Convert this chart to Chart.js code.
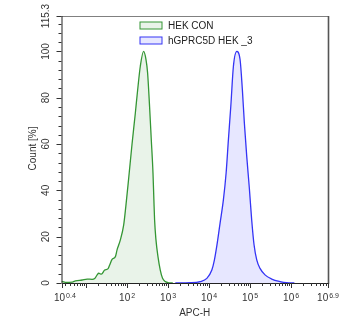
<!DOCTYPE html>
<html>
<head>
<meta charset="utf-8">
<script src="https://cdn.jsdelivr.net/npm/chart.js@4/dist/chart.umd.min.js"></script>
<style>
  html, body { margin: 0; padding: 0; background: #ffffff; }
  #wrap { width: 364px; height: 334px; }
</style>
</head>
<body>
<div id="wrap"><canvas id="histo" width="364" height="334"></canvas></div>
<script>
// Histogram of APC-H intensity for the two samples (counts normalised to % of peak)
const seriesNames = ['HEK CON', 'hGPRC5D HEK _3'];

const conIntensity = [2.51, 2.6, 3.1, 4.6, 5.5, 8.0, 10.6, 14.0, 16.2, 18.6, 20.3, 23.6, 28.4, 34.4, 37.6, 43, 51.8, 56.9, 68.5, 82.4, 93, 109, 132, 158, 180, 210, 252, 289, 316, 353, 389, 428, 450, 468, 506, 566, 644, 733, 852, 1024, 1300];
const conCount     = [0.5, 0.6, 0.3, 0.4, 0.9, 1.3, 1.7, 1.6, 1.9, 3.5, 4.2, 3.8, 5.6, 6.2, 7.8, 10.2, 11.4, 14.3, 18.6, 25, 33, 45, 60, 73, 83, 93.6, 100, 96.5, 90.8, 76.3, 61.9, 47.5, 36, 27.3, 18.6, 11.4, 5.6, 2.0, 0.6, 0.1, 0];

const gprcIntensity = [1500, 3459, 6053, 8810, 11660, 13490, 15420, 18570, 22340, 26000, 29580, 33830, 39170, 47340, 56920, 64760, 72440, 82800, 95770, 102400, 109600, 124800, 145200, 174600, 231100, 336600, 535800, 779700, 1200000];
const gprcCount     = [0, 0.1, 0.6, 2.0, 5.6, 10, 16, 26, 36, 47.5, 61.9, 76.3, 93.6, 100, 96.5, 83.5, 69.1, 54.7, 41, 34, 27, 16.5, 10.0, 6.3, 3.5, 1.7, 0.6, 0.1, 0];

// Axis ranges and labelled ticks
const xMinExp = 0.4;
const xMaxExp = 6.9;
const xLabelExponents = ['0.4', '2', '3', '4', '5', '6', '6.9'];
const yMax = 115.3;
const yLabelValues = [0, 20, 40, 60, 80, 100, 115.3];

const xTitle = 'APC-H';
const yTitle = 'Count [%]';

const lineColors = ['rgb(52,150,52)', 'rgb(52,52,245)'];
const fillColors = ['rgba(52,150,52,0.11)', 'rgba(60,60,255,0.12)'];

function toPoints(xs, ys) { return xs.map((v, i) => ({ x: v, y: ys[i] })); }

const FONT = '"Liberation Sans", Arial, sans-serif';

const axesPlugin = {
  id: 'flowAxes',
  afterDraw(chart) {
    const { ctx, chartArea, scales } = chart;
    const { left, right, top, bottom } = chartArea;
    const xs = scales.x, ys = scales.y;
    ctx.save();

    // frame: top and right in grey
    ctx.lineWidth = 1;
    ctx.strokeStyle = '#808080';
    ctx.beginPath();
    ctx.moveTo(left, top + 0.5); ctx.lineTo(right, top + 0.5);
    ctx.stroke();
    ctx.strokeStyle = '#555555';
    ctx.lineWidth = 1.6;
    ctx.beginPath();
    ctx.moveTo(right + 0.5, top); ctx.lineTo(right + 0.5, bottom + 1);
    ctx.stroke();

    // left and bottom axes
    ctx.strokeStyle = '#222222';
    ctx.lineWidth = 1;
    ctx.beginPath();
    ctx.moveTo(left + 0.5, top); ctx.lineTo(left + 0.5, bottom + 0.5);
    ctx.lineTo(right, bottom + 0.5);
    ctx.stroke();

    // y ticks: major every 20, minor every 4
    ctx.strokeStyle = '#333333';
    ctx.beginPath();
    for (let v = 0; v <= 112; v += 4) {
      const py = Math.round(ys.getPixelForValue(v)) + 0.5;
      const len = (v % 20 === 0) ? 5 : 3;
      ctx.moveTo(left, py); ctx.lineTo(left - len, py);
    }
    const pTop = Math.round(ys.getPixelForValue(yMax)) + 0.5;
    ctx.moveTo(left, pTop); ctx.lineTo(left - 5, pTop);
    ctx.stroke();

    // x ticks: major at decades and range ends, minor at 2..9
    ctx.beginPath();
    const xMin = Math.pow(10, xMinExp), xMax = Math.pow(10, xMaxExp);
    for (let d = 0; d <= 7; d++) {
      for (let m = 1; m <= 9; m++) {
        const v = m * Math.pow(10, d);
        if (v < xMin || v > xMax) continue;
        const px = Math.round(xs.getPixelForValue(v)) + 0.5;
        const len = m === 1 ? 5 : 3;
        ctx.moveTo(px, bottom); ctx.lineTo(px, bottom + len);
      }
    }
    [xMin, xMax].forEach(v => {
      const px = Math.round(xs.getPixelForValue(v)) + 0.5;
      ctx.moveTo(px, bottom); ctx.lineTo(px, bottom + 5);
    });
    ctx.stroke();

    // y tick labels (rotated)
    ctx.fillStyle = '#333333';
    ctx.font = '10px ' + FONT;
    ctx.textAlign = 'center';
    ctx.textBaseline = 'middle';
    yLabelValues.forEach(v => {
      const py = ys.getPixelForValue(v);
      ctx.save();
      ctx.translate(left - 15, py);
      ctx.rotate(-Math.PI / 2);
      ctx.fillText(String(v), 0, 0);
      ctx.restore();
    });

    // x tick labels: 10 with superscript exponent
    ctx.textAlign = 'left';
    ctx.textBaseline = 'alphabetic';
    xLabelExponents.forEach((e, i) => {
      const px = xs.getPixelForValue(Math.pow(10, parseFloat(e)));
      ctx.font = '10px ' + FONT;
      const wb = ctx.measureText('10').width;
      ctx.font = '7px ' + FONT;
      const we = ctx.measureText(e).width;
      // first label sits just right of the axis corner
      let x0 = px - (wb + 1 + we) / 2;
      if (i === 0) x0 = px - 7.5;
      ctx.font = '10px ' + FONT;
      ctx.fillText('10', x0, bottom + 18);
      ctx.font = '7px ' + FONT;
      ctx.fillText(e, x0 + wb + 1, bottom + 14.5);
    });

    // axis titles
    ctx.font = '10px ' + FONT;
    ctx.textAlign = 'center';
    ctx.textBaseline = 'middle';
    ctx.fillText(xTitle, (left + right) / 2, bottom + 30);
    ctx.save();
    ctx.translate(left - 28, (top + bottom) / 2 - 1);
    ctx.rotate(-Math.PI / 2);
    ctx.fillText(yTitle, 0, 0);
    ctx.restore();

    // legend inside the plot
    ctx.textAlign = 'left';
    ctx.textBaseline = 'middle';
    chart.data.datasets.forEach((ds, i) => {
      const cy = top + 9.5 + i * 15;
      ctx.fillStyle = '#ffffff';
      ctx.fillRect(left + 78.5, cy - 3.5, 22, 7);
      ctx.fillStyle = ds.backgroundColor;
      ctx.fillRect(left + 78.5, cy - 3.5, 22, 7);
      ctx.strokeStyle = ds.borderColor;
      ctx.lineWidth = 1;
      ctx.strokeRect(left + 78.5, cy - 3.5, 22, 7);
      ctx.fillStyle = '#222222';
      ctx.fillText(ds.label, left + 106.5, cy + 0.5);
    });

    ctx.restore();
  }
};

new Chart(document.getElementById('histo'), {
  type: 'line',
  data: {
    datasets: [
      {
        label: seriesNames[0],
        data: toPoints(conIntensity, conCount),
        borderColor: lineColors[0],
        backgroundColor: fillColors[0],
        borderWidth: 1.3,
        fill: 'origin',
        pointRadius: 0,
        cubicInterpolationMode: 'monotone'
      },
      {
        label: seriesNames[1],
        data: toPoints(gprcIntensity, gprcCount),
        borderColor: lineColors[1],
        backgroundColor: fillColors[1],
        borderWidth: 1.3,
        fill: 'origin',
        pointRadius: 0,
        cubicInterpolationMode: 'monotone'
      }
    ]
  },
  options: {
    responsive: false,
    animation: false,
    events: [],
    layout: { padding: { left: 61.5, right: 36, top: 16, bottom: 51 } },
    plugins: { legend: { display: false }, tooltip: { enabled: false } },
    scales: {
      x: {
        type: 'logarithmic',
        display: false,
        min: Math.pow(10, xMinExp),
        max: Math.pow(10, xMaxExp)
      },
      y: {
        type: 'linear',
        display: false,
        min: 0,
        max: yMax
      }
    }
  },
  plugins: [axesPlugin]
});
</script>
</body>
</html>
